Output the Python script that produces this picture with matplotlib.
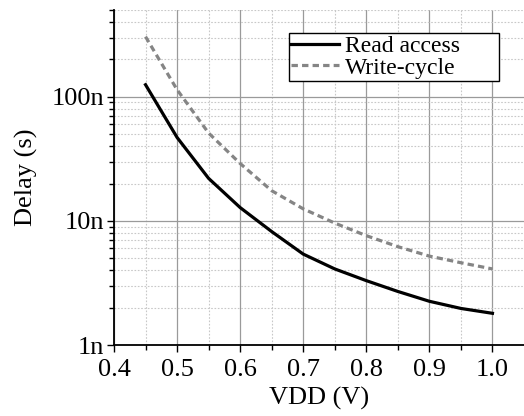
import matplotlib.pyplot as plt
import numpy as np
from matplotlib.ticker import FixedLocator, FuncFormatter, LogLocator, NullFormatter

vdd = [0.45, 0.50, 0.55, 0.60, 0.65, 0.70, 0.75, 0.80, 0.85, 0.90, 0.95, 1.00]
read_access = [125e-9, 47e-9, 22e-9, 12.8e-9, 8.2e-9, 5.4e-9, 4.1e-9, 3.3e-9, 2.7e-9, 2.25e-9, 1.97e-9, 1.8e-9]
write_cycle = [305e-9, 114e-9, 51e-9, 29e-9, 17.5e-9, 12.5e-9, 9.6e-9, 7.6e-9, 6.2e-9, 5.2e-9, 4.6e-9, 4.1e-9]

x_ticks = [0.4, 0.5, 0.6, 0.7, 0.8, 0.9, 1.0]
x_minor = [0.45, 0.55, 0.65, 0.75, 0.85, 0.95]
y_ticks = [1e-9, 1e-8, 1e-7]
y_labels = {1e-9: '1n', 1e-8: '10n', 1e-7: '100n'}

plt.rcParams['font.family'] = ['Liberation Serif', 'DejaVu Serif']

fig = plt.figure(figsize=(5.24, 4.16), dpi=100)
ax = fig.add_axes([114 / 524, 1 - 345 / 416, 410 / 524, 335 / 416])

ax.plot(vdd, read_access, color='black', lw=2.3, label='Read access')
ax.plot(vdd, write_cycle, color='#858585', lw=2.3, ls=(0, (2.0, 1.3)), label='Write-cycle')

ax.set_yscale('log')
ax.set_xlim(0.4, 1.05)
ax.set_ylim(1e-9, 5e-7)

ax.xaxis.set_major_locator(FixedLocator(x_ticks))
ax.xaxis.set_minor_locator(FixedLocator(x_minor))
ax.set_xticklabels(['%.1f' % v for v in x_ticks])
ax.yaxis.set_major_locator(FixedLocator(y_ticks))
ax.yaxis.set_major_formatter(FuncFormatter(lambda v, p: y_labels.get(v, '')))
ax.yaxis.set_minor_locator(LogLocator(base=10, subs=np.arange(2, 10)))
ax.yaxis.set_minor_formatter(NullFormatter())

ax.tick_params(which='major', direction='out', length=5, width=1, labelsize=19)
ax.tick_params(axis='x', which='major', pad=5)
ax.tick_params(axis='y', which='major', pad=2)
ax.tick_params(which='minor', direction='out', length=3.5, width=1)

ax.grid(which='major', color='#9a9a9a', lw=0.9, ls='-')
ax.grid(which='minor', color='#c8c8c8', lw=0.8, ls=(0, (1.5, 1.5)))
ax.set_axisbelow(True)

ax.spines['top'].set_visible(False)
ax.spines['right'].set_visible(False)
ax.spines['left'].set_linewidth(1.3)
ax.spines['bottom'].set_linewidth(1.3)

ax.set_xlabel('VDD (V)', fontsize=19, labelpad=4)
ax.set_ylabel('Delay (s)', fontsize=19, labelpad=10)

leg = ax.legend(loc='upper left', bbox_to_anchor=(0.427, 0.78, 0.513, 0.151), mode='expand',
                fontsize=17, frameon=True, fancybox=False, edgecolor='black', framealpha=1,
                borderpad=0.1, handlelength=2.0, handletextpad=0.25, labelspacing=0.0,
                borderaxespad=0)
leg.get_frame().set_linewidth(1.0)

fig.savefig('out.png', dpi=100)
